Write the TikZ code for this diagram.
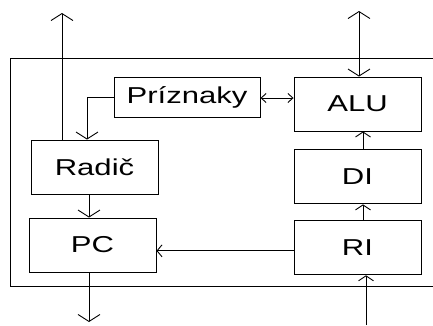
\documentclass[tikz,border=0pt]{standalone}
\usepackage{fontspec}
\setmainfont{Liberation Sans}[FakeStretch=1.35]
\usepackage{tikz}
\usetikzlibrary{arrows.meta,positioning}

\begin{document}
\begin{tikzpicture}[
    x=1pt, y=-1pt,
    font=\fontsize{23}{26}\selectfont,
    line width=0.9pt,
    block/.style={draw, line width=0.9pt, inner sep=0pt, minimum width=127pt, minimum height=54pt},
    flagbox/.style={draw, line width=0.9pt, inner sep=0pt, minimum width=146pt, minimum height=40pt},
    bigtip/.style={-{Straight Barb[length=7pt,width=22pt]}},
    midtip/.style={-{Straight Barb[length=5pt,width=15pt]}},
    bigboth/.style={{Straight Barb[length=7pt,width=22pt]}-{Straight Barb[length=7pt,width=22pt]}},
    smallboth/.style={{Straight Barb[length=5pt,width=9pt]}-{Straight Barb[length=5pt,width=9pt]}},
    smalltip/.style={-{Straight Barb[length=5pt,width=12pt]}}
]
\useasboundingbox (0,0) rectangle (433,325);
% outer frame, open to the right
\draw (433,58) -- (10,58) -- (10,286) -- (433,286);
% blocks
\node[block] (alu) at (357.5,104) {ALU};
\node[block, below=18pt of alu] (di) {DI};
\node[block, below=16pt of di] (ri) {RI};
\node[flagbox] (priz) at (187,97) {Príznaky};
\node[block] (radic) at (94.5,167) {Radič};
\node[block] (pc) at (92.5,245) {PC};
% free ends
\coordinate (radicOut) at (62,13);
\coordinate (aluBus) at (359,11);
\coordinate (pcOut) at (89,322);
\coordinate (riIn) at (366,325);
\coordinate (flagBend) at (87,97);
% connectors
\draw[bigtip] (radic.north -| radicOut) -- (radicOut);
\draw[bigtip] (priz.west |- flagBend) -- (flagBend) -- (flagBend |- radic.north);
\draw[smallboth] ([yshift=-1pt]priz.east) -- ([yshift=-1pt]priz.east -| alu.west);
\draw[bigboth] (aluBus) -- (aluBus |- alu.north);
\draw[midtip] ([xshift=5.5pt]di.north) -- ([xshift=5.5pt]alu.south);
\draw[midtip] ([xshift=5.5pt]ri.north) -- ([xshift=5.5pt]di.south);
\draw[smalltip] ([yshift=-3pt]ri.west) -- ([yshift=-3pt]ri.west -| pc.east);
\draw[bigtip] (pcOut |- radic.south) -- (pcOut |- pc.north);
\draw[bigtip] (pcOut |- pc.south) -- (pcOut);
\draw[midtip] (riIn) -- (riIn |- ri.south);
\end{tikzpicture}
\end{document}
